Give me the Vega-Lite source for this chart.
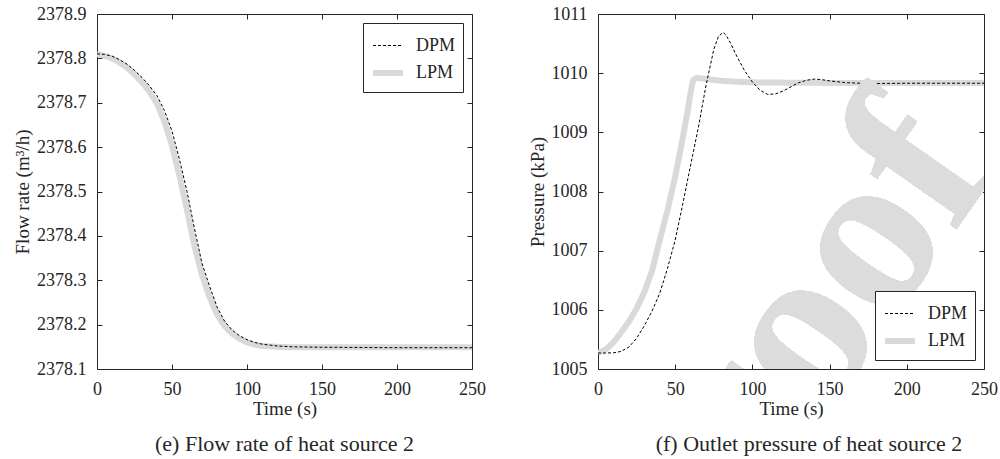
{
  "$schema": "https://vega.github.io/schema/vega-lite/v6.json",
  "background": "white",
  "padding": {"left": 13, "top": 4, "right": 5, "bottom": 5},
  "spacing": 41,
  "datasets": {
    "flow": [
      {"t": 0, "v": 2378.810, "model": "DPM"},
      {"t": 5, "v": 2378.809, "model": "DPM"},
      {"t": 10, "v": 2378.805, "model": "DPM"},
      {"t": 15, "v": 2378.797, "model": "DPM"},
      {"t": 20, "v": 2378.787, "model": "DPM"},
      {"t": 25, "v": 2378.773, "model": "DPM"},
      {"t": 30, "v": 2378.757, "model": "DPM"},
      {"t": 35, "v": 2378.738, "model": "DPM"},
      {"t": 40, "v": 2378.716, "model": "DPM"},
      {"t": 45, "v": 2378.682, "model": "DPM"},
      {"t": 50, "v": 2378.636, "model": "DPM"},
      {"t": 55, "v": 2378.572, "model": "DPM"},
      {"t": 60, "v": 2378.500, "model": "DPM"},
      {"t": 65, "v": 2378.416, "model": "DPM"},
      {"t": 70, "v": 2378.338, "model": "DPM"},
      {"t": 75, "v": 2378.287, "model": "DPM"},
      {"t": 80, "v": 2378.240, "model": "DPM"},
      {"t": 85, "v": 2378.208, "model": "DPM"},
      {"t": 90, "v": 2378.188, "model": "DPM"},
      {"t": 95, "v": 2378.175, "model": "DPM"},
      {"t": 100, "v": 2378.166, "model": "DPM"},
      {"t": 105, "v": 2378.160, "model": "DPM"},
      {"t": 110, "v": 2378.156, "model": "DPM"},
      {"t": 120, "v": 2378.152, "model": "DPM"},
      {"t": 130, "v": 2378.150, "model": "DPM"},
      {"t": 150, "v": 2378.149, "model": "DPM"},
      {"t": 200, "v": 2378.148, "model": "DPM"},
      {"t": 250, "v": 2378.148, "model": "DPM"},
      {"t": 0, "v": 2378.810, "model": "LPM"},
      {"t": 5, "v": 2378.806, "model": "LPM"},
      {"t": 10, "v": 2378.800, "model": "LPM"},
      {"t": 15, "v": 2378.791, "model": "LPM"},
      {"t": 20, "v": 2378.779, "model": "LPM"},
      {"t": 25, "v": 2378.764, "model": "LPM"},
      {"t": 30, "v": 2378.746, "model": "LPM"},
      {"t": 35, "v": 2378.725, "model": "LPM"},
      {"t": 40, "v": 2378.698, "model": "LPM"},
      {"t": 45, "v": 2378.657, "model": "LPM"},
      {"t": 50, "v": 2378.603, "model": "LPM"},
      {"t": 55, "v": 2378.535, "model": "LPM"},
      {"t": 60, "v": 2378.458, "model": "LPM"},
      {"t": 65, "v": 2378.377, "model": "LPM"},
      {"t": 70, "v": 2378.312, "model": "LPM"},
      {"t": 75, "v": 2378.262, "model": "LPM"},
      {"t": 80, "v": 2378.223, "model": "LPM"},
      {"t": 85, "v": 2378.197, "model": "LPM"},
      {"t": 90, "v": 2378.180, "model": "LPM"},
      {"t": 95, "v": 2378.168, "model": "LPM"},
      {"t": 100, "v": 2378.160, "model": "LPM"},
      {"t": 105, "v": 2378.155, "model": "LPM"},
      {"t": 110, "v": 2378.152, "model": "LPM"},
      {"t": 120, "v": 2378.150, "model": "LPM"},
      {"t": 130, "v": 2378.149, "model": "LPM"},
      {"t": 150, "v": 2378.149, "model": "LPM"},
      {"t": 200, "v": 2378.149, "model": "LPM"},
      {"t": 250, "v": 2378.149, "model": "LPM"}
    ],
    "pressure": [
      {"t": 0, "v": 1005.27, "model": "DPM"},
      {"t": 5, "v": 1005.27, "model": "DPM"},
      {"t": 10, "v": 1005.275, "model": "DPM"},
      {"t": 12, "v": 1005.28, "model": "DPM"},
      {"t": 15, "v": 1005.30, "model": "DPM"},
      {"t": 20, "v": 1005.37, "model": "DPM"},
      {"t": 25, "v": 1005.52, "model": "DPM"},
      {"t": 30, "v": 1005.73, "model": "DPM"},
      {"t": 35, "v": 1005.98, "model": "DPM"},
      {"t": 40, "v": 1006.28, "model": "DPM"},
      {"t": 45, "v": 1006.70, "model": "DPM"},
      {"t": 50, "v": 1007.18, "model": "DPM"},
      {"t": 55, "v": 1007.80, "model": "DPM"},
      {"t": 60, "v": 1008.45, "model": "DPM"},
      {"t": 65, "v": 1009.08, "model": "DPM"},
      {"t": 70, "v": 1009.80, "model": "DPM"},
      {"t": 75, "v": 1010.40, "model": "DPM"},
      {"t": 78, "v": 1010.62, "model": "DPM"},
      {"t": 81, "v": 1010.69, "model": "DPM"},
      {"t": 83, "v": 1010.64, "model": "DPM"},
      {"t": 86, "v": 1010.50, "model": "DPM"},
      {"t": 90, "v": 1010.28, "model": "DPM"},
      {"t": 95, "v": 1010.04, "model": "DPM"},
      {"t": 100, "v": 1009.85, "model": "DPM"},
      {"t": 105, "v": 1009.71, "model": "DPM"},
      {"t": 110, "v": 1009.64, "model": "DPM"},
      {"t": 115, "v": 1009.65, "model": "DPM"},
      {"t": 120, "v": 1009.70, "model": "DPM"},
      {"t": 125, "v": 1009.77, "model": "DPM"},
      {"t": 130, "v": 1009.84, "model": "DPM"},
      {"t": 135, "v": 1009.88, "model": "DPM"},
      {"t": 140, "v": 1009.90, "model": "DPM"},
      {"t": 145, "v": 1009.89, "model": "DPM"},
      {"t": 150, "v": 1009.87, "model": "DPM"},
      {"t": 160, "v": 1009.84, "model": "DPM"},
      {"t": 170, "v": 1009.83, "model": "DPM"},
      {"t": 180, "v": 1009.825, "model": "DPM"},
      {"t": 200, "v": 1009.83, "model": "DPM"},
      {"t": 250, "v": 1009.83, "model": "DPM"},
      {"t": 0, "v": 1005.27, "model": "LPM"},
      {"t": 5, "v": 1005.33, "model": "LPM"},
      {"t": 10, "v": 1005.45, "model": "LPM"},
      {"t": 15, "v": 1005.62, "model": "LPM"},
      {"t": 20, "v": 1005.80, "model": "LPM"},
      {"t": 25, "v": 1006.02, "model": "LPM"},
      {"t": 30, "v": 1006.30, "model": "LPM"},
      {"t": 35, "v": 1006.66, "model": "LPM"},
      {"t": 40, "v": 1007.18, "model": "LPM"},
      {"t": 45, "v": 1007.68, "model": "LPM"},
      {"t": 50, "v": 1008.25, "model": "LPM"},
      {"t": 55, "v": 1008.92, "model": "LPM"},
      {"t": 58, "v": 1009.35, "model": "LPM"},
      {"t": 60, "v": 1009.68, "model": "LPM"},
      {"t": 61, "v": 1009.82, "model": "LPM"},
      {"t": 62, "v": 1009.89, "model": "LPM"},
      {"t": 64, "v": 1009.92, "model": "LPM"},
      {"t": 70, "v": 1009.90, "model": "LPM"},
      {"t": 80, "v": 1009.87, "model": "LPM"},
      {"t": 90, "v": 1009.855, "model": "LPM"},
      {"t": 100, "v": 1009.845, "model": "LPM"},
      {"t": 120, "v": 1009.84, "model": "LPM"},
      {"t": 150, "v": 1009.835, "model": "LPM"},
      {"t": 250, "v": 1009.835, "model": "LPM"}
    ]
  },
  "hconcat": [
    {
      "width": 375,
      "height": 355,
      "data": {"name": "flow"},
      "title": {"text": "(e) Flow rate of heat source 2", "orient": "bottom", "offset": 16},
      "layer": [
        {
          "transform": [{"filter": "datum.model === 'LPM'"}],
          "mark": {"type": "line", "clip": true},
          "encoding": {
            "x": {"field": "t", "type": "quantitative", "scale": {"domain": [0, 250], "nice": false}, "axis": {"orient": "bottom", "values": [0, 50, 100, 150, 200, 250], "title": "Time (s)", "titlePadding": 1}},
            "y": {"field": "v", "type": "quantitative", "scale": {"domain": [2378.1, 2378.9], "nice": false, "zero": false}, "axis": {"orient": "left", "values": [2378.1, 2378.2, 2378.3, 2378.4, 2378.5, 2378.6, 2378.7, 2378.8, 2378.9], "format": ".1f", "title": "Flow rate (m³/h)"}},
            "color": {"field": "model", "type": "nominal", "scale": {"domain": ["DPM", "LPM"], "range": ["#000000", "#d9d9d9"]}, "legend": {"orient": "top-right", "title": null}},
            "strokeDash": {"field": "model", "type": "nominal", "scale": {"domain": ["DPM", "LPM"], "range": [[3, 2], [1, 0]]}, "legend": {"orient": "top-right", "title": null}},
            "strokeWidth": {"field": "model", "type": "nominal", "scale": {"domain": ["DPM", "LPM"], "range": [1, 6]}, "legend": {"orient": "top-right", "title": null}}
          }
        },
        {
          "transform": [{"filter": "datum.model === 'DPM'"}],
          "mark": {"type": "line", "clip": true},
          "encoding": {
            "x": {"field": "t", "type": "quantitative", "scale": {"domain": [0, 250], "nice": false}, "axis": {"orient": "top", "values": [0, 50, 100, 150, 200, 250], "labels": false, "title": null}},
            "y": {"field": "v", "type": "quantitative", "scale": {"domain": [2378.1, 2378.9], "nice": false, "zero": false}, "axis": {"orient": "right", "values": [2378.1, 2378.2, 2378.3, 2378.4, 2378.5, 2378.6, 2378.7, 2378.8, 2378.9], "labels": false, "title": null}},
            "color": {"field": "model", "type": "nominal", "scale": {"domain": ["DPM", "LPM"], "range": ["#000000", "#d9d9d9"]}, "legend": {"orient": "top-right", "title": null}},
            "strokeDash": {"field": "model", "type": "nominal", "scale": {"domain": ["DPM", "LPM"], "range": [[3, 2], [1, 0]]}, "legend": {"orient": "top-right", "title": null}},
            "strokeWidth": {"field": "model", "type": "nominal", "scale": {"domain": ["DPM", "LPM"], "range": [1, 6]}, "legend": {"orient": "top-right", "title": null}}
          }
        }
      ],
      "resolve": {"axis": {"x": "independent", "y": "independent"}}
    },
    {
      "width": 386,
      "height": 355,
      "data": {"name": "pressure"},
      "title": {"text": "(f) Outlet pressure of heat source 2", "orient": "bottom", "offset": 16, "dx": 18},
      "layer": [
        {
          "transform": [{"filter": "datum.model === 'LPM'"}],
          "mark": {"type": "line", "clip": true},
          "encoding": {
            "x": {"field": "t", "type": "quantitative", "scale": {"domain": [0, 250], "nice": false}, "axis": {"orient": "bottom", "values": [0, 50, 100, 150, 200, 250], "title": "Time (s)", "titlePadding": 1}},
            "y": {"field": "v", "type": "quantitative", "scale": {"domain": [1005, 1011], "nice": false, "zero": false}, "axis": {"orient": "left", "values": [1005, 1006, 1007, 1008, 1009, 1010, 1011], "format": "d", "title": "Pressure (kPa)"}},
            "color": {"field": "model", "type": "nominal", "scale": {"domain": ["DPM", "LPM"], "range": ["#000000", "#d9d9d9"]}, "legend": {"orient": "bottom-right", "title": null}},
            "strokeDash": {"field": "model", "type": "nominal", "scale": {"domain": ["DPM", "LPM"], "range": [[3, 2], [1, 0]]}, "legend": {"orient": "bottom-right", "title": null}},
            "strokeWidth": {"field": "model", "type": "nominal", "scale": {"domain": ["DPM", "LPM"], "range": [1, 6]}, "legend": {"orient": "bottom-right", "title": null}}
          }
        },
        {
          "transform": [{"filter": "datum.model === 'DPM'"}],
          "mark": {"type": "line", "clip": true},
          "encoding": {
            "x": {"field": "t", "type": "quantitative", "scale": {"domain": [0, 250], "nice": false}, "axis": {"orient": "top", "values": [0, 50, 100, 150, 200, 250], "labels": false, "title": null}},
            "y": {"field": "v", "type": "quantitative", "scale": {"domain": [1005, 1011], "nice": false, "zero": false}, "axis": {"orient": "right", "values": [1005, 1006, 1007, 1008, 1009, 1010, 1011], "labels": false, "title": null}},
            "color": {"field": "model", "type": "nominal", "scale": {"domain": ["DPM", "LPM"], "range": ["#000000", "#d9d9d9"]}, "legend": {"orient": "bottom-right", "title": null}},
            "strokeDash": {"field": "model", "type": "nominal", "scale": {"domain": ["DPM", "LPM"], "range": [[3, 2], [1, 0]]}, "legend": {"orient": "bottom-right", "title": null}},
            "strokeWidth": {"field": "model", "type": "nominal", "scale": {"domain": ["DPM", "LPM"], "range": [1, 6]}, "legend": {"orient": "bottom-right", "title": null}}
          }
        },
        {
          "mark": {"type": "text", "text": "Proof", "angle": -55, "fontSize": 230, "fontWeight": "bold", "font": "Liberation Serif", "color": "#dcdcdc", "align": "center", "baseline": "middle", "clip": true},
          "encoding": {
            "x": {"datum": 120.5, "type": "quantitative", "axis": null},
            "y": {"datum": 1005.24, "type": "quantitative", "axis": null}
          }
        }
      ],
      "resolve": {"axis": {"x": "independent", "y": "independent"}}
    }
  ],
  "resolve": {
    "scale": {"color": "independent", "strokeDash": "independent", "strokeWidth": "independent"},
    "legend": {"color": "independent", "strokeDash": "independent", "strokeWidth": "independent"}
  },
  "config": {
    "font": "Liberation Serif",
    "view": {"stroke": "#262626", "strokeWidth": 1},
    "axis": {
      "domain": false,
      "grid": false,
      "tickColor": "#262626",
      "tickSize": -5,
      "labelPadding": 16,
      "labelColor": "#262626",
      "labelFontSize": 18,
      "labelFont": "Liberation Serif",
      "labelFlush": false,
      "labelOverlap": false,
      "titleFontSize": 19,
      "titleFontWeight": "normal",
      "titleFont": "Liberation Serif",
      "titleColor": "#262626"
    },
    "legend": {
      "offset": 9,
      "strokeColor": "#262626",
      "padding": 7,
      "fillColor": "white",
      "labelFontSize": 18,
      "labelFont": "Liberation Serif",
      "labelColor": "#262626",
      "labelOffset": 10,
      "symbolType": "stroke",
      "symbolSize": 900,
      "rowPadding": 0
    },
    "title": {"fontSize": 22, "fontWeight": "normal", "font": "Liberation Serif", "color": "#262626"}
  }
}
